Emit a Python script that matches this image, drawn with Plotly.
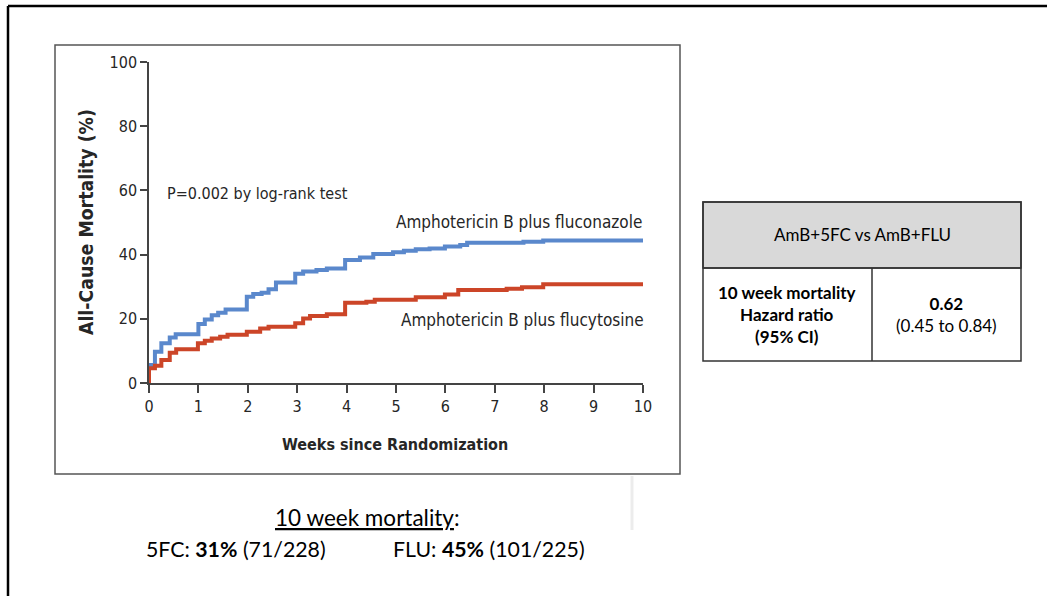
import plotly.graph_objects as go

# ---- data ----
flu_weeks = [0, 0, 0.12, 0.25, 0.42, 0.54, 1.0, 1.13, 1.27, 1.4, 1.55, 1.98, 2.11, 2.28, 2.42, 2.57,
             2.96, 3.12, 3.39, 3.6, 3.97, 4.27, 4.54, 4.94, 5.16, 5.4, 5.68, 5.99, 6.3, 6.44, 7.58, 7.98, 10]
flu_mort = [0, 5.6, 9.7, 12.4, 14.2, 15.2, 18.4, 19.8, 21.1, 21.9, 22.9, 26.9, 27.7, 28.1, 29.2, 31.3,
            34.0, 34.7, 35.2, 35.7, 38.3, 39.1, 40.2, 40.7, 41.2, 41.7, 41.9, 42.5, 43.0, 43.7, 44.0, 44.4, 44.4]

fc_weeks = [0, 0, 0.12, 0.25, 0.42, 0.55, 0.99, 1.13, 1.27, 1.44, 1.59, 1.98, 2.25, 2.42, 2.96, 3.12,
            3.26, 3.6, 3.97, 4.4, 4.57, 5.4, 5.99, 6.26, 7.24, 7.55, 7.98, 10]
fc_mort = [0, 4.6, 5.4, 7.2, 9.4, 10.5, 12.4, 13.2, 13.9, 14.4, 15.0, 16.0, 17.0, 17.5, 18.6, 20.1,
           20.9, 21.4, 25.0, 25.3, 25.9, 26.7, 27.6, 29.0, 29.4, 29.8, 30.8, 30.8]

x_ticks = [0, 1, 2, 3, 4, 5, 6, 7, 8, 9, 10]
y_ticks = [0, 20, 40, 60, 80, 100]

series_names = ["Amphotericin B plus fluconazole", "Amphotericin B plus flucytosine"]
p_text = "P=0.002 by log-rank test"
table_header = "AmB+5FC vs AmB+FLU"
table_row_label = "10 week mortality<br>Hazard ratio<br>(95% CI)"
hr_value = "0.62"
hr_ci = "(0.45 to 0.84)"

W, H = 1047, 596
BLUE = "#5a88cc"
RED = "#cc4528"
NARROW = "Liberation Sans Narrow, Arial Narrow, DejaVu Sans Condensed, sans-serif"
BODY = "Lato, Carlito, Calibri, Liberation Sans, sans-serif"
TXT = "#262626"

def px(x):
    return x / W

def py(y):
    return 1 - y / H

fig = go.Figure()
fig.add_trace(go.Scatter(x=flu_weeks, y=flu_mort, mode="lines", line=dict(shape="hv", color=BLUE, width=4),
                         name=series_names[0], showlegend=False))
fig.add_trace(go.Scatter(x=fc_weeks, y=fc_mort, mode="lines", line=dict(shape="hv", color=RED, width=4),
                         name=series_names[1], showlegend=False))

fig.update_layout(
    width=W, height=H,
    margin=dict(l=0, r=0, t=0, b=0, pad=0, autoexpand=False),
    showlegend=False,
    paper_bgcolor="white", plot_bgcolor="white",
    xaxis=dict(domain=[px(149), px(643)], range=[0, 10], tickvals=x_ticks, showgrid=False, zeroline=False,
               automargin=False,
               showline=True, linecolor="#444", linewidth=1.5, ticks="outside", ticklen=8, tickwidth=1.5,
               tickcolor="#444", tickfont=dict(family=NARROW, size=16, color=TXT), fixedrange=True),
    yaxis=dict(domain=[py(383), py(62)], range=[0, 100], tickvals=y_ticks, showgrid=False, zeroline=False,
               automargin=False,
               showline=True, linecolor="#444", linewidth=1.5, ticks="outside", ticklen=7, tickwidth=1.5,
               tickcolor="#444", tickfont=dict(family=NARROW, size=16, color=TXT), fixedrange=True),
)

shapes = []
# slide frame (left and top edges)
shapes.append(dict(type="line", xref="paper", yref="paper", x0=px(8), x1=px(8), y0=py(6), y1=0,
                   line=dict(color="black", width=2.5)))
shapes.append(dict(type="line", xref="paper", yref="paper", x0=px(8), x1=1, y0=py(6), y1=py(6),
                   line=dict(color="black", width=2.5)))
# chart image box
shapes.append(dict(type="rect", xref="paper", yref="paper", x0=px(55), x1=px(680), y0=py(474), y1=py(45),
                   line=dict(color="#555", width=1.5)))
# faint gray vertical bar
shapes.append(dict(type="line", xref="paper", yref="paper", x0=px(632), x1=px(632), y0=py(476), y1=py(530),
                   line=dict(color="#ececec", width=3)))
# table
shapes.append(dict(type="rect", xref="paper", yref="paper", x0=px(703), x1=px(1021), y0=py(268), y1=py(202),
                   fillcolor="#d9d9d9", line=dict(color="#333", width=1.5), layer="below"))
shapes.append(dict(type="rect", xref="paper", yref="paper", x0=px(703), x1=px(1021), y0=py(361), y1=py(202),
                   line=dict(color="#333", width=1.5)))
shapes.append(dict(type="line", xref="paper", yref="paper", x0=px(703), x1=px(1021), y0=py(268), y1=py(268),
                   line=dict(color="#333", width=1.5)))
shapes.append(dict(type="line", xref="paper", yref="paper", x0=px(872), x1=px(872), y0=py(268), y1=py(361),
                   line=dict(color="#333", width=1.5)))
fig.update_layout(shapes=shapes)

def note(x, y, text, size, family, color="black", xanchor="center", angle=0):
    return dict(xref="paper", yref="paper", x=px(x), y=py(y), text=text, textangle=angle,
                xanchor=xanchor, yanchor="middle", showarrow=False,
                font=dict(family=family, size=size, color=color))

ann = [
    note(86, 222, "<b>All-Cause Mortality (%)</b>", 19.3, NARROW, TXT, angle=-90),
    note(395, 445, "<b>Weeks since Randomization</b>", 16, NARROW, TXT),
    note(165, 193, p_text, 16, NARROW, TXT, xanchor="left"),
    note(644, 222, series_names[0], 17, NARROW, TXT, xanchor="right"),
    note(399, 320, series_names[1], 17, NARROW, TXT, xanchor="left"),
    note(862, 235, table_header, 17, BODY),
    note(787, 314, "<b>" + table_row_label + "</b>", 17, BODY),
    note(946, 314, "<b>" + hr_value + "</b><br>" + hr_ci, 17, BODY),
    note(367, 517, "<u>10 week mortality</u>:", 22.5, BODY),
    note(144, 549, "5FC: <b>31%</b> (71/228)", 21.3, BODY, xanchor="left"),
    note(391, 549, "FLU: <b>45%</b> (101/225)", 21.3, BODY, xanchor="left"),
]
fig.update_layout(annotations=ann)

fig.write_html(
    "out.html",
    config={"displayModeBar": False},
    post_script="document.body.style.margin='0';document.body.style.overflow='hidden';",
)
